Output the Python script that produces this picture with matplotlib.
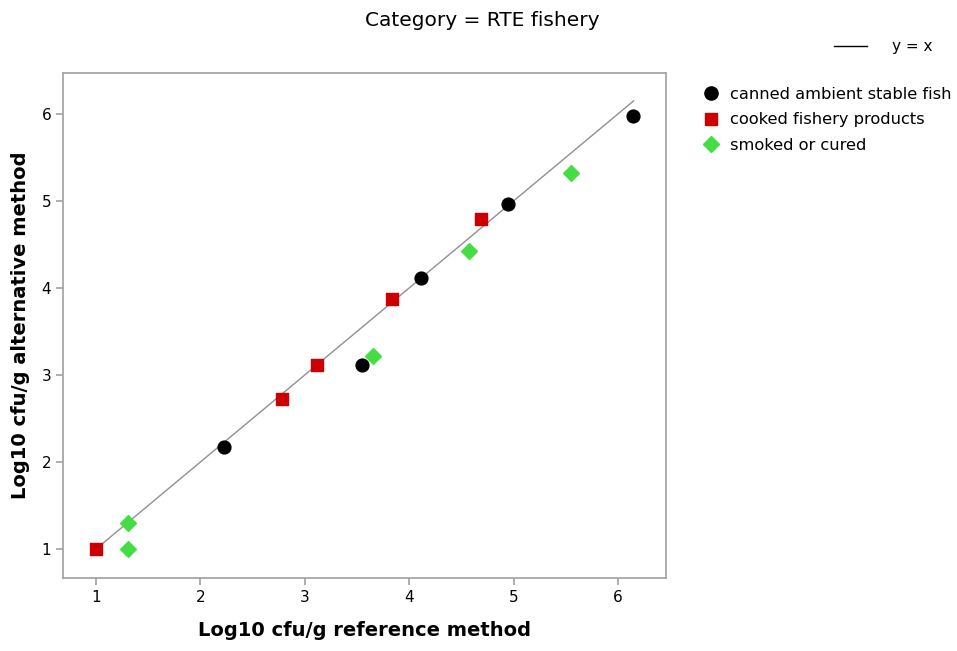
import numpy as np
import matplotlib
matplotlib.use("Agg")
import matplotlib.pyplot as plt
from matplotlib.lines import Line2D

# data
canned_x = [2.23, 3.55, 4.11, 4.95, 6.14]
canned_y = [2.17, 3.11, 4.12, 4.96, 5.98]
cooked_x = [1.00, 2.78, 3.12, 3.84, 4.69]
cooked_y = [1.00, 2.72, 3.11, 3.87, 4.79]
smoked_x = [1.31, 1.31, 3.65, 4.57, 5.55]
smoked_y = [1.30, 1.00, 3.22, 4.43, 5.32]
line_x = [1.0, 6.15]
line_y = [1.0, 6.15]
ticks = [1, 2, 3, 4, 5, 6]

plt.rcParams['font.family'] = ['DejaVu Sans']

fig = plt.figure(figsize=(9.57, 6.51), dpi=100)
ax = fig.add_axes([63 / 957, 1 - 578 / 651, (666 - 63) / 957, (578 - 73) / 651])

grey = '#a0a0a0'
ax.plot(line_x, line_y, color='#909090', lw=1.0, zorder=2)
ax.plot([1.0], [1.0], marker='+', color='#808080', ms=9, mew=1.2, zorder=2)
ax.scatter(canned_x, canned_y, marker='o', s=85, color='black', zorder=3)
ax.scatter(cooked_x, cooked_y, marker='s', s=70, color='#cc0000', zorder=3)
ax.scatter(smoked_x, smoked_y, marker='D', s=65, color='#44dd44', zorder=3)

ax.set_xlim(0.684, 6.46)
ax.set_ylim(0.667, 6.47)
ax.set_xticks(ticks)
ax.set_yticks(ticks)
for s in ax.spines.values():
    s.set_color(grey)
    s.set_linewidth(1.2)
ax.tick_params(colors=grey, labelcolor='black', labelsize=11, length=5, width=1.2)

ax.set_xlabel('Log10 cfu/g reference method', fontsize=14, fontweight='bold', labelpad=12)
ax.set_ylabel('Log10 cfu/g alternative method', fontsize=14, fontweight='bold', labelpad=8)

fig.text(482 / 957, 1 - 20 / 651, 'Category = RTE fishery', ha='center', va='center', fontsize=14.5)

# legends
h1 = [Line2D([0], [0], color='black', lw=1)]
leg1 = fig.legend(h1, ['y = x'], loc='center left', bbox_to_anchor=(820 / 957, 1 - 47 / 651),
                  frameon=False, fontsize=11, handlelength=2.2, handletextpad=1.6)
h2 = [Line2D([0], [0], marker='o', ls='', color='black', ms=9.5),
      Line2D([0], [0], marker='s', ls='', color='#cc0000', ms=8),
      Line2D([0], [0], marker='D', ls='', color='#44dd44', ms=8)]
fig.legend(h2, ['canned ambient stable fish', 'cooked fishery products', 'smoked or cured'],
           loc='upper left', bbox_to_anchor=(688 / 957, 1 - 72 / 651), frameon=False,
           fontsize=11.7, handlelength=1.0, handletextpad=0.7, labelspacing=0.65)

fig.savefig('out.png', dpi=100)
